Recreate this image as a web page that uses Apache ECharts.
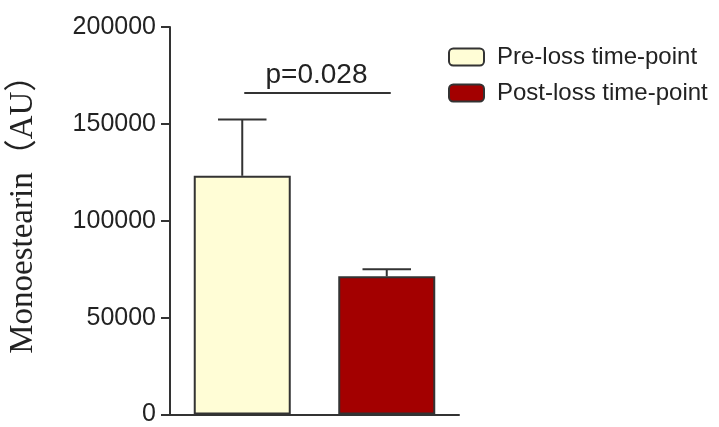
<!DOCTYPE html>
<html>
<head>
<meta charset="utf-8">
<script src="https://cdn.jsdelivr.net/npm/echarts@6/dist/echarts.min.js"></script>
<style>
  html, body { margin: 0; padding: 0; background: #fff; }
  #chart { width: 719px; height: 427px; }
</style>
</head>
<body>
<div id="chart"></div>
<script>
// Monoestearin levels before and after loss (mean with upper SEM)
const groups = ['Pre-loss time-point', 'Post-loss time-point'];
const means = [123200, 71300];
const upperErrors = [152300, 75000];
const yTicks = [0, 50000, 100000, 150000, 200000];
const pLabel = 'p=0.028';
const pLevel = 166000;

const colors = ['#FFFDD6', '#A30000'];
const edge = '#333333';
const barW = 97;

const chart = echarts.init(document.getElementById('chart'));

const barSeries = groups.map((g, i) => ({
  name: g,
  type: 'bar',
  barWidth: barW,
  barGap: '-100%',
  data: groups.map((_, j) => (j === i ? means[j] : '-')),
  itemStyle: { color: colors[i], borderColor: edge, borderWidth: 2 },
  silent: true,
  z: 2
}));

const errorSeries = {
  type: 'custom',
  silent: true,
  z: 3,
  data: groups.map((_, i) => [i, means[i], upperErrors[i]]),
  renderItem: function (params, api) {
    const base = api.coord([api.value(0), api.value(1)]);
    const top = api.coord([api.value(0), api.value(2)]);
    const half = barW / 4;
    const st = { stroke: edge, lineWidth: 2 };
    return {
      type: 'group',
      children: [
        { type: 'line', shape: { x1: base[0], y1: base[1], x2: top[0], y2: top[1] }, style: st },
        { type: 'line', shape: { x1: top[0] - half, y1: top[1], x2: top[0] + half, y2: top[1] }, style: st }
      ]
    };
  }
};

const sigSeries = {
  type: 'custom',
  silent: true,
  z: 3,
  data: [[0, 1, pLevel]],
  renderItem: function (params, api) {
    const a = api.coord([api.value(0), api.value(2)]);
    const b = api.coord([api.value(1), api.value(2)]);
    return {
      type: 'group',
      children: [
        { type: 'line', shape: { x1: a[0] + 2, y1: a[1], x2: b[0] + 4, y2: b[1] },
          style: { stroke: edge, lineWidth: 2 } },
        { type: 'text', x: (a[0] + b[0]) / 2 + 2, y: a[1] - 4,
          style: { text: pLabel, fill: '#222', font: '28px "Liberation Sans", Arial, sans-serif',
                   align: 'center', verticalAlign: 'bottom' } }
      ]
    };
  }
};

chart.setOption({
  animation: false,
  backgroundColor: '#fff',
  grid: { left: 170, top: 27, width: 289, height: 391, containLabel: false },
  legend: {
    orient: 'vertical',
    left: 448,
    top: 45,
    padding: 0,
    itemWidth: 35,
    itemHeight: 17,
    itemGap: 12,
    icon: 'roundRect',
    selectedMode: false,
    data: groups,
    textStyle: { color: '#222', fontSize: 24, fontFamily: '"Liberation Sans", Arial, sans-serif', padding: [0, 0, 0, 8] }
  },
  xAxis: {
    type: 'category',
    data: groups,
    axisLine: { lineStyle: { color: edge, width: 2 } },
    axisTick: { show: false },
    axisLabel: { show: false }
  },
  yAxis: {
    type: 'value',
    min: yTicks[0],
    max: yTicks[yTicks.length - 1],
    interval: yTicks[1] - yTicks[0],
    splitLine: { show: false },
    axisLine: { show: true, lineStyle: { color: edge, width: 2 } },
    axisTick: { show: true, length: 9, lineStyle: { color: edge, width: 2 } },
    axisLabel: { color: '#222', fontSize: 25, margin: 14, formatter: v => String(v),
                 fontFamily: '"Liberation Sans", Arial, sans-serif' },
    name: 'Monoestearin（AU）',
    nameLocation: 'middle',
    nameGap: 130,
    nameTextStyle: { fontSize: 33, color: '#222', padding: [0, 0, 0, 29],
                     fontFamily: '"Liberation Serif", "Times New Roman", "Noto Sans CJK SC", serif' }
  },
  series: [...barSeries, errorSeries, sigSeries]
});
</script>
</body>
</html>
